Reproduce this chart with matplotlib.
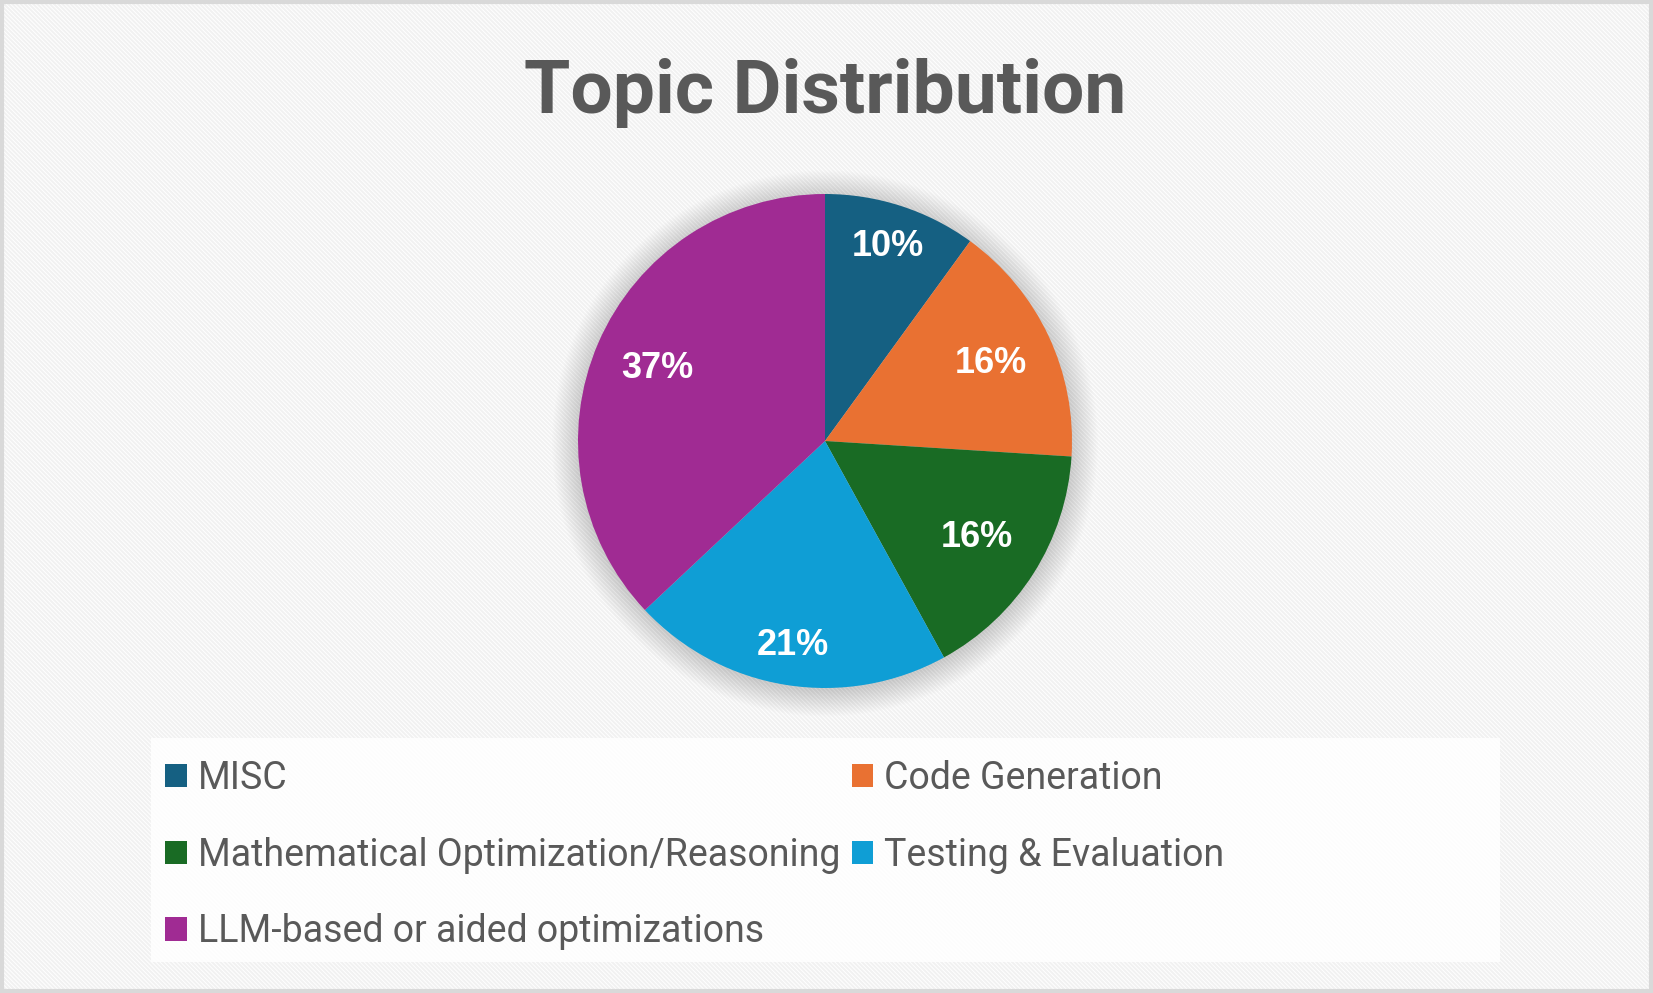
import numpy as np
import matplotlib
matplotlib.use('Agg')
import matplotlib.pyplot as plt
from matplotlib.patches import Patch, Rectangle, Circle

# ── Data ─────────────────────────────────────────────────────────────────────
topics = ['MISC', 'Code Generation', 'Mathematical Optimization/Reasoning',
          'Testing & Evaluation', 'LLM-based or aided optimizations']
shares = [10, 16, 16, 21, 37]
colors = ['#156082', '#E97132', '#196B24', '#0F9ED5', '#A02B93']

TEXT_GRAY = '#595959'
W, H, DPI = 1653, 993, 100
FONT = 'Roboto'

plt.rcParams['hatch.linewidth'] = 1.4
plt.rcParams['hatch.color'] = '#f1f1f1'

fig = plt.figure(figsize=(W / DPI, H / DPI), dpi=DPI)
fig.patch.set_facecolor('white')

# striped background + light frame
fig.add_artist(Rectangle((0, 0), 1, 1, transform=fig.transFigure,
                         facecolor='white', hatch='\\' * 8, edgecolor='#f1f1f1',
                         linewidth=0, zorder=0))
fig.add_artist(Rectangle((0.001, 0.002), 0.998, 0.996, transform=fig.transFigure,
                         facecolor='none', edgecolor='#d9d9d9', linewidth=3, zorder=10))


def px_box(x0, y0, x1, y1):
    # pixel box (top-left origin) -> figure fraction rect
    return [x0 / W, 1 - y1 / H, (x1 - x0) / W, (y1 - y0) / H]


# ── Pie ──────────────────────────────────────────────────────────────────────
cx, cy, r = 825, 441, 247
lim = 1.25
ax = fig.add_axes(px_box(cx - r * lim, cy - r * lim, cx + r * lim, cy + r * lim))
ax.set_aspect('equal')
ax.axis('off')

# soft shadow halo
for i in range(22):
    ax.add_patch(Circle((0, -0.01), 1.0 + i * 0.005, facecolor='#000000',
                        alpha=0.009, linewidth=0, zorder=0))

wedges, _, autotexts = ax.pie(
    shares, colors=colors, startangle=90, counterclock=False, radius=1.0,
    autopct='%.0f%%', pctdistance=0.78,
    wedgeprops=dict(linewidth=0),
    textprops=dict(color='white', fontsize=26, fontweight='bold',
                   family='Liberation Sans'),
)
# Excel "best fit" label placement: radial distance per slice
label_radius = [0.83, 0.74, 0.73, 0.84, 0.74]
for w, t, rad in zip(wedges, autotexts, label_radius):
    mid = np.deg2rad((w.theta1 + w.theta2) / 2)
    t.set_position((rad * np.cos(mid), rad * np.sin(mid)))
ax.set_xlim(-lim, lim)
ax.set_ylim(-lim, lim)

# ── Title ────────────────────────────────────────────────────────────────────
fig.text(cx / W, 1 - 113 / H, 'Topic Distribution', ha='center', va='baseline',
         fontsize=54, fontweight='bold', color=TEXT_GRAY, family=FONT)

# ── Legend ───────────────────────────────────────────────────────────────────
fig.add_artist(Rectangle((151 / W, 1 - 962 / H), (1500 - 151) / W, (962 - 738) / H,
                         transform=fig.transFigure, facecolor='white',
                         edgecolor='none', alpha=0.85, zorder=1))

handles = [Patch(facecolor=c, edgecolor='none', label=t) for t, c in zip(topics, colors)]
order = [0, 2, 4, 1, 3]  # row-major reading with two columns
leg = fig.legend([handles[i] for i in order], [topics[i] for i in order],
                 loc='upper left', bbox_to_anchor=(146 / W, 1 - 741 / H),
                 ncol=2, frameon=False,
                 handlelength=0.58, handleheight=0.58, handletextpad=0.3,
                 labelspacing=1.06, columnspacing=0.3, borderpad=0,
                 labelcolor=TEXT_GRAY, prop=dict(family=FONT, size=27))
leg.set_zorder(5)

fig.savefig('out.png', dpi=DPI)
